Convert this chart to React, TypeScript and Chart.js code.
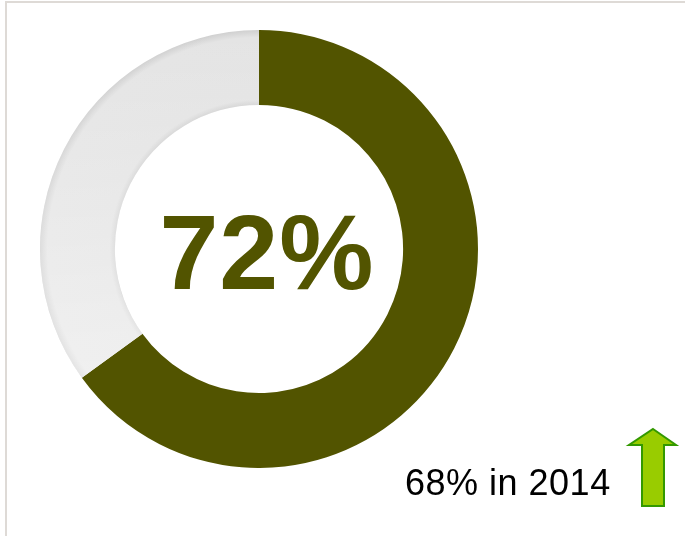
import React, { useEffect, useRef } from "react";
import { Chart, registerables } from "chart.js";

Chart.register(...registerables);

// Data
const segmentLabels = ["2015", "Remaining"];
const segmentValues = [65, 35];
const centerLabel = "72%";
const comparisonLabel = "68% in 2014";

const OLIVE = "#525400";

const grayShade = {
  id: "grayShade",
  afterDatasetsDraw(chart: any) {
    const meta = chart.getDatasetMeta(0);
    const arc = meta.data[1];
    if (!arc) return;
    const { x, y, startAngle, endAngle, innerRadius, outerRadius } = arc.getProps(
      ["x", "y", "startAngle", "endAngle", "innerRadius", "outerRadius"],
      true
    );
    const ctx = chart.ctx;
    ctx.save();
    ctx.beginPath();
    ctx.arc(x, y, outerRadius, startAngle, endAngle);
    ctx.arc(x, y, innerRadius, endAngle, startAngle, true);
    ctx.closePath();
    const lg = ctx.createLinearGradient(0, y - outerRadius, 0, y + outerRadius * 0.6);
    lg.addColorStop(0, "rgba(255,255,255,0)");
    lg.addColorStop(1, "rgba(255,255,255,0.45)");
    ctx.fillStyle = lg;
    ctx.fill();
    ctx.restore();
  },
};

function DonutChart() {
  const ref = useRef<HTMLCanvasElement>(null);
  useEffect(() => {
    if (!ref.current) return;
    const chart = new Chart(ref.current, {
      type: "doughnut",
      data: {
        labels: segmentLabels,
        datasets: [
          {
            data: segmentValues,
            borderWidth: 0,
            backgroundColor: (c: any) => {
              if (c.dataIndex === 0) return OLIVE;
              const ch = c.chart;
              const area = ch.chartArea;
              if (!area) return "#e3e3e3";
              const cx = (area.left + area.right) / 2;
              const cy = (area.top + area.bottom) / 2;
              const outer = Math.min(area.right - area.left, area.bottom - area.top) / 2;
              const inner = outer * 0.658;
              const g = ch.ctx.createRadialGradient(cx, cy, inner, cx, cy, outer);
              g.addColorStop(0, "#d4d4d4");
              g.addColorStop(0.07, "#e3e3e3");
              g.addColorStop(0.9, "#e4e4e4");
              g.addColorStop(1, "#d0d0d0");
              return g;
            },
          },
        ],
      },
      options: {
        responsive: false,
        animation: false,
        events: [],
        cutout: "65.8%",
        layout: { padding: 0 },
        plugins: { legend: { display: false }, tooltip: { enabled: false } },
      },
      plugins: [grayShade],
    });
    return () => chart.destroy();
  }, []);
  return (
    <canvas
      ref={ref}
      width={438}
      height={438}
      style={{ position: "absolute", left: 40, top: 30, width: 438, height: 438 }}
    />
  );
}

export default function App() {
  return (
    <div
      style={{
        position: "absolute",
        left: 0,
        top: 0,
        width: 685,
        height: 536,
        overflow: "hidden",
        background: "#ffffff",
        fontFamily: "'Liberation Sans', Arial, sans-serif",
      }}
    >
      <div
        style={{
          position: "absolute",
          left: 5,
          top: 1,
          width: 720,
          height: 600,
          borderTop: "2px solid #dedad6",
          borderLeft: "2px solid #dedad6",
        }}
      />
      <DonutChart />
      <div
        style={{
          position: "absolute",
          left: 117,
          top: 199,
          width: 300,
          textAlign: "center",
          fontSize: 106,
          lineHeight: 1,
          fontWeight: "bold",
          letterSpacing: 1,
          color: OLIVE,
          whiteSpace: "nowrap",
        }}
      >
        {centerLabel}
      </div>
      <div
        style={{
          position: "absolute",
          left: 405,
          top: 465,
          fontSize: 36,
          lineHeight: 1,
          letterSpacing: 0.5,
          color: "#000000",
          whiteSpace: "nowrap",
        }}
      >
        {comparisonLabel}
      </div>
      <svg
        width={685}
        height={536}
        style={{ position: "absolute", left: 0, top: 0, pointerEvents: "none" }}
      >
        <polygon
          points="653,429 676,445 664,445 664,506 642,506 642,445 629,445"
          fill="#99cc00"
          stroke="#339900"
          strokeWidth={2}
          strokeLinejoin="miter"
        />
      </svg>
    </div>
  );
}
